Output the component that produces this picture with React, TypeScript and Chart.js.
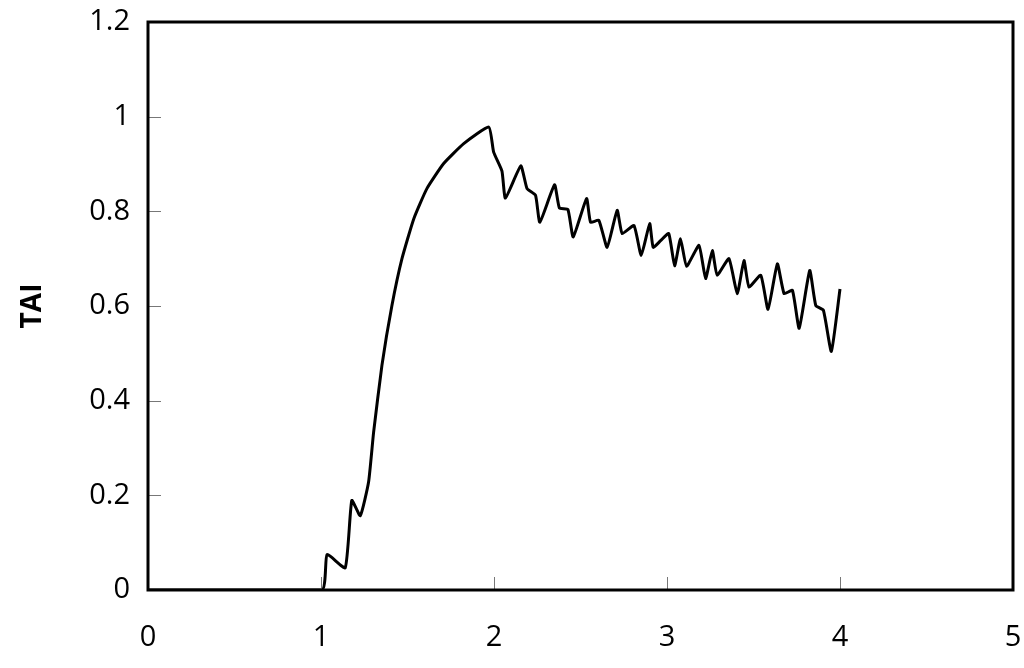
import React, { useEffect, useRef } from "react";
import { Chart, registerables } from "chart.js";

Chart.register(...registerables);

const timeValues: number[] = [
  0, 1.005, 1.035, 1.14, 1.178, 1.227, 1.275, 1.304, 1.352, 1.41, 1.468, 1.536,
  1.612, 1.709, 1.825, 1.97, 1.998, 2.046, 2.066, 2.155, 2.191, 2.24, 2.265,
  2.35, 2.378, 2.427, 2.458, 2.535, 2.558, 2.606, 2.654, 2.712, 2.741, 2.809,
  2.851, 2.9, 2.92, 2.963, 3.01, 3.044, 3.078, 3.113, 3.185, 3.223, 3.262, 3.29,
  3.358, 3.406, 3.445, 3.474, 3.542, 3.584, 3.638, 3.677, 3.725, 3.764, 3.825,
  3.86, 3.904, 3.95, 4.0,
];

const taiValues: number[] = [
  0, 0, 0.075, 0.047, 0.189, 0.157, 0.228, 0.333, 0.474, 0.601, 0.7, 0.784,
  0.848, 0.901, 0.943, 0.978, 0.925, 0.885, 0.828, 0.896, 0.848, 0.834, 0.777,
  0.856, 0.807, 0.804, 0.746, 0.827, 0.777, 0.781, 0.724, 0.802, 0.753, 0.77,
  0.707, 0.774, 0.724, 0.738, 0.753, 0.685, 0.742, 0.684, 0.728, 0.658, 0.717,
  0.665, 0.7, 0.626, 0.696, 0.64, 0.665, 0.593, 0.689, 0.626, 0.633, 0.553,
  0.675, 0.601, 0.591, 0.504, 0.636,
];

const xTickValues: number[] = [0, 1, 2, 3, 4, 5];
const yTickValues: number[] = [0, 0.2, 0.4, 0.6, 0.8, 1, 1.2];
const yAxisTitle = "TAI";

const FONT = "'Open Sans', 'DejaVu Sans', sans-serif";

const framePlugin = {
  id: "frameAndInnerTicks",
  afterDatasetsDraw(chart: any) {
    const { ctx, chartArea, scales } = chart;
    const { left, right, top, bottom } = chartArea;
    ctx.save();
    ctx.strokeStyle = "#777";
    ctx.lineWidth = 1;
    ctx.beginPath();
    for (const v of yTickValues) {
      const y = Math.round(scales.y.getPixelForValue(v)) + 0.5;
      ctx.moveTo(left, y);
      ctx.lineTo(left + 13, y);
    }
    for (const v of xTickValues) {
      const x = Math.round(scales.x.getPixelForValue(v)) + 0.5;
      ctx.moveTo(x, bottom);
      ctx.lineTo(x, bottom - 13);
    }
    ctx.stroke();
    ctx.strokeStyle = "#000";
    ctx.lineWidth = 3;
    ctx.strokeRect(left, top, right - left, bottom - top);
    ctx.restore();
  },
};

export default function App() {
  const ref = useRef<HTMLCanvasElement | null>(null);

  useEffect(() => {
    document.body.style.margin = "0";
    const canvas = ref.current;
    if (!canvas) return;
    const points = timeValues.map((t, i) => ({ x: t, y: taiValues[i] }));
    const chart = new Chart(canvas, {
      type: "line",
      data: {
        datasets: [
          {
            data: points,
            borderColor: "#000",
            borderWidth: 3,
            pointRadius: 0,
            tension: 0.15,
            fill: false,
          },
        ],
      },
      options: {
        animation: false,
        responsive: false,
        devicePixelRatio: 1,
        layout: { padding: { top: 22, right: 11, left: 0, bottom: 0 } },
        plugins: {
          legend: { display: false },
          tooltip: { enabled: false },
        },
        scales: {
          x: {
            type: "linear",
            min: 0,
            max: 5,
            afterFit: (s: any) => {
              s.height = 78;
              s.paddingLeft = 0;
              s.paddingRight = 0;
            },
            afterBuildTicks: (s: any) => {
              s.ticks = xTickValues.map((v) => ({ value: v }));
            },
            grid: { display: false, drawTicks: false },
            border: { display: false },
            ticks: {
              padding: 30,
              color: "#000",
              font: { family: FONT, size: 29 },
            },
          },
          y: {
            type: "linear",
            min: 0,
            max: 1.2,
            afterFit: (s: any) => {
              s.width = 148;
              s.paddingTop = 0;
              s.paddingBottom = 0;
            },
            afterBuildTicks: (s: any) => {
              s.ticks = yTickValues.map((v) => ({ value: v }));
            },
            grid: { display: false, drawTicks: false },
            border: { display: false },
            ticks: {
              padding: 18,
              color: "#000",
              font: { family: FONT, size: 29 },
              callback: (v: any) => String(Number(v)),
            },
            title: {
              display: true,
              text: yAxisTitle,
              color: "#000",
              font: { family: FONT, size: 28, weight: "bold" },
              padding: { top: 16, bottom: 0 },
            },
          },
        },
      },
      plugins: [framePlugin],
    });
    return () => chart.destroy();
  }, []);

  return (
    <div style={{ position: "absolute", left: 0, top: 0, width: 1024, height: 668 }}>
      <canvas ref={ref} width={1024} height={668} style={{ display: "block" }} />
    </div>
  );
}
